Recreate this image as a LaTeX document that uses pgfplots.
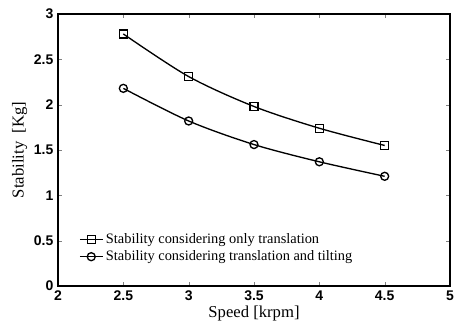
\documentclass[border=0pt]{standalone}
\usepackage{pgfplots}
\pgfplotsset{compat=1.18}
\usepackage{fontspec}
\setmainfont{Liberation Serif}
\newfontfamily\tickfont{Liberation Sans}
\begin{document}
\begin{tikzpicture}
\begin{axis}[
  scale only axis,
  width=294pt, height=204pt,
  xmin=2, xmax=5, ymin=0, ymax=3,
  xtick={2,2.5,3,3.5,4,4.5,5},
  ytick={0,0.5,1,1.5,2,2.5,3},
  xticklabels={2,2.5,3,3.5,4,4.5,5},
  yticklabels={0,0.5,1,1.5,2,2.5,3},
  tick label style={font=\tickfont\bfseries\fontsize{10.5}{12}\selectfont},
  tick align=inside,
  tick pos=both,
  major tick length=3pt,
  xlabel={Speed [krpm]},
  ylabel={Stability\ \ [Kg]},
  label style={font=\fontsize{12.5}{14}\selectfont},
  xlabel style={yshift=3pt},
  ylabel style={yshift=-2pt},
  legend style={draw=none, fill=none, at={(0.05,0.07)}, anchor=south west,
    font=\fontsize{10.8}{12.5}\selectfont, row sep=0pt, inner sep=1pt},
  legend cell align=left,
  axis line style={line width=0.9pt},
]
\addplot[black, line width=1pt, smooth, mark=square, mark size=3pt, mark options={solid, line width=1pt}]
  coordinates {(2.5,2.78) (3,2.31) (3.5,1.98) (4,1.74) (4.5,1.55)};
\addlegendentry{Stability considering only translation}
\addplot[black, line width=1pt, smooth, mark=o, mark size=3pt, mark options={solid, line width=1pt}]
  coordinates {(2.5,2.18) (3,1.82) (3.5,1.56) (4,1.37) (4.5,1.21)};
\addlegendentry{Stability considering translation and tilting}
\end{axis}
\pgfresetboundingbox
\path[use as bounding box] ([xshift=-43.5pt,yshift=-29.25pt]current axis.south west) rectangle ([xshift=10.5pt,yshift=10.5pt]current axis.north east);
\end{tikzpicture}
\end{document}
